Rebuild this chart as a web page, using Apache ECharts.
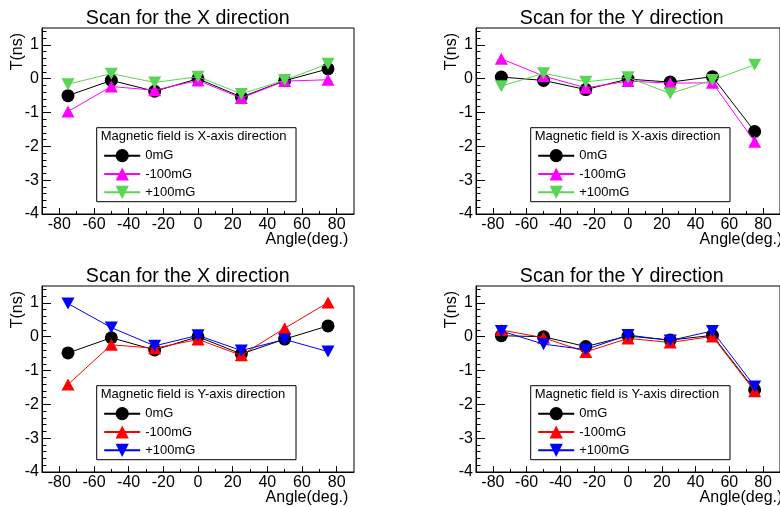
<!DOCTYPE html>
<html>
<head>
<meta charset="utf-8">
<script src="https://cdn.jsdelivr.net/npm/echarts@6/dist/echarts.min.js"></script>
<style>
html,body{margin:0;padding:0;background:#fff;}
#chart{width:780px;height:507px;}
</style>
</head>
<body>
<div id="chart"></div>
<script>
// ---------- data ----------
const angles = [-75, -50, -25, 0, 25, 50, 75];
const seriesNames = ['0mG', '-100mG', '+100mG'];

// Panel A: scan for the X direction, field along X
const xScanXField_0mG  = [-0.50, -0.05, -0.37,  0.00, -0.54, -0.06,  0.29];
const xScanXField_m100 = [-0.97, -0.23, -0.34, -0.05, -0.57, -0.07, -0.03];
const xScanXField_p100 = [-0.16,  0.15, -0.11,  0.06, -0.45, -0.04,  0.44];
// Panel B: scan for the Y direction, field along X
const yScanXField_0mG  = [ 0.05, -0.05, -0.32, -0.01, -0.10,  0.06, -1.56];
const yScanXField_m100 = [ 0.59,  0.08, -0.27, -0.07, -0.13, -0.12, -1.86];
const yScanXField_p100 = [-0.22,  0.16, -0.09,  0.04, -0.44, -0.04,  0.41];
// Panel C: scan for the X direction, field along Y
const xScanYField_0mG  = [-0.48, -0.03, -0.39,  0.00, -0.51, -0.07,  0.32];
const xScanYField_m100 = [-1.41, -0.24, -0.34, -0.08, -0.55,  0.25,  1.01];
const xScanYField_p100 = [ 0.98,  0.27, -0.27,  0.04, -0.41, -0.08, -0.44];
// Panel D: scan for the Y direction, field along Y
const yScanYField_0mG  = [ 0.03,  0.00, -0.29,  0.02, -0.10,  0.04, -1.57];
const yScanYField_m100 = [ 0.20, -0.03, -0.45, -0.05, -0.17,  0.01, -1.61];
const yScanYField_p100 = [ 0.17, -0.22, -0.38,  0.05, -0.11,  0.17, -1.47];

// tick labels
const xMajorTicks = [-80, -60, -40, -20, 0, 20, 40, 60, 80];
const xMinorTicks = [-70, -50, -30, -10, 10, 30, 50, 70];
const yMajorTicks = [-4, -3, -2, -1, 0, 1];
const yMinorTicks = [];
for (let i = -20; i <= 7; i++) { if (i % 5 !== 0) yMinorTicks.push(+(i * 0.2).toFixed(1)); }

const titles = ['Scan for the X direction', 'Scan for the Y direction', 'Scan for the X direction', 'Scan for the Y direction'];
const legendHeaders = ['Magnetic field is X-axis direction', 'Magnetic field is X-axis direction',
                       'Magnetic field is Y-axis direction', 'Magnetic field is Y-axis direction'];
const panelData = [
  [xScanXField_0mG, xScanXField_m100, xScanXField_p100],
  [yScanXField_0mG, yScanXField_m100, yScanXField_p100],
  [xScanYField_0mG, xScanYField_m100, xScanYField_p100],
  [yScanYField_0mG, yScanYField_m100, yScanYField_p100]
];
const panelColors = [
  ['#000000', '#ff00ff', '#59d454'],
  ['#000000', '#ff00ff', '#59d454'],
  ['#000000', '#ff0000', '#0000ff'],
  ['#000000', '#ff0000', '#0000ff']
];

// ---------- layout ----------
const FONT = 'Liberation Sans';
const panelPos = [[42, 28], [476, 28], [42, 286], [476, 286]];
const GW = 312, GH = 186;
const symbols = ['circle', 'triangle', 'path://M0,0 L10,0 L5,10 Z'];
const symbolSizes = [13, [13, 12], [13, 12]];

const grid = [], xAxis = [], yAxis = [], series = [], legend = [], graphics = [];

panelPos.forEach(function (p, k) {
  const L = p[0], T = p[1];
  grid.push({ left: L, top: T, width: GW, height: GH, show: true, borderColor: '#000', borderWidth: 1, backgroundColor: 'transparent', containLabel: false });
  // major x axis
  xAxis.push({
    type: 'value', gridIndex: k, min: -90, max: 90, position: 'bottom',
    axisLine: { show: true, onZero: false, lineStyle: { color: '#000', width: 1 } },
    axisTick: { show: true, inside: true, length: 6, customValues: xMajorTicks, lineStyle: { color: '#000' } },
    axisLabel: { show: true, customValues: xMajorTicks, margin: 3, color: '#000', fontSize: 16, fontFamily: FONT },
    splitLine: { show: false }
  });
  // minor x axis
  xAxis.push({
    type: 'value', gridIndex: k, min: -90, max: 90, position: 'bottom',
    axisLine: { show: false, onZero: false },
    axisTick: { show: true, inside: true, length: 3, customValues: xMinorTicks, lineStyle: { color: '#000' } },
    axisLabel: { show: false },
    splitLine: { show: false }
  });
  yAxis.push({
    type: 'value', gridIndex: k, min: -4, max: 1.5, position: 'left',
    axisLine: { show: true, onZero: false, lineStyle: { color: '#000', width: 1 } },
    axisTick: { show: true, inside: true, length: 9, customValues: yMajorTicks, lineStyle: { color: '#000' } },
    axisLabel: { show: true, customValues: yMajorTicks, margin: 3, color: '#000', fontSize: 16, fontFamily: FONT },
    splitLine: { show: false }
  });
  yAxis.push({
    type: 'value', gridIndex: k, min: -4, max: 1.5, position: 'left',
    axisLine: { show: false, onZero: false },
    axisTick: { show: true, inside: true, length: 4.5, customValues: yMinorTicks, lineStyle: { color: '#000' } },
    axisLabel: { show: false },
    splitLine: { show: false }
  });

  const legendNames = [];
  panelData[k].forEach(function (vals, s) {
    const name = 'P' + k + '|' + seriesNames[s];
    legendNames.push(name);
    series.push({
      type: 'line', name: name, xAxisIndex: 2 * k, yAxisIndex: 2 * k,
      data: angles.map(function (a, i) { return [a, vals[i]]; }),
      symbol: symbols[s], symbolSize: symbolSizes[s],
      itemStyle: { color: panelColors[k][s] },
      lineStyle: { color: panelColors[k][s], width: 1 },
      showAllSymbol: true, animation: false, z: 2 + s
    });
  });

  // legend box + header
  const bx = L + 54.7, by = T + 99.7;
  graphics.push({ type: 'rect', shape: { x: bx, y: by, width: 199.3, height: 74 }, style: { fill: '#fff', stroke: '#000', lineWidth: 1 }, z: 10 });
  graphics.push({ type: 'text', x: bx + 4, y: by + 9, z: 11,
    style: { text: legendHeaders[k], fontSize: 13, fontFamily: FONT, fill: '#000', align: 'left', verticalAlign: 'middle' } });
  legend.push({
    orient: 'vertical', left: bx + 6.5, top: by + 21.4, padding: 0,
    itemWidth: 36, itemHeight: 16.5, itemGap: 5.1, selectedMode: false, z: 12,
    data: legendNames,
    formatter: function (n) { return n.split('|')[1]; },
    textStyle: { fontSize: 13, fontFamily: FONT, color: '#000' }
  });

  // title
  graphics.push({ type: 'text', x: L + 145.7, y: T - 9, z: 11,
    style: { text: titles[k], fontSize: 19.6, fontFamily: FONT, fill: '#000', align: 'center', verticalAlign: 'middle' } });
  // y axis name
  graphics.push({ type: 'text', x: L - 24.5, y: T + 23.7, rotation: Math.PI / 2, z: 11,
    style: { text: 'T(ns)', fontSize: 16, fontFamily: FONT, fill: '#000', align: 'center', verticalAlign: 'middle' } });
  // x axis name
  graphics.push({ type: 'text', x: L + 306.3, y: T + 211.3, z: 11,
    style: { text: 'Angle(deg.)', fontSize: 16, fontFamily: FONT, fill: '#000', align: 'right', verticalAlign: 'middle' } });
});

const chart = echarts.init(document.getElementById('chart'), null, { renderer: 'canvas' });
chart.setOption({
  animation: false,
  backgroundColor: '#fff',
  grid: grid, xAxis: xAxis, yAxis: yAxis, series: series, legend: legend,
  graphic: { elements: graphics }
});
</script>
</body>
</html>
